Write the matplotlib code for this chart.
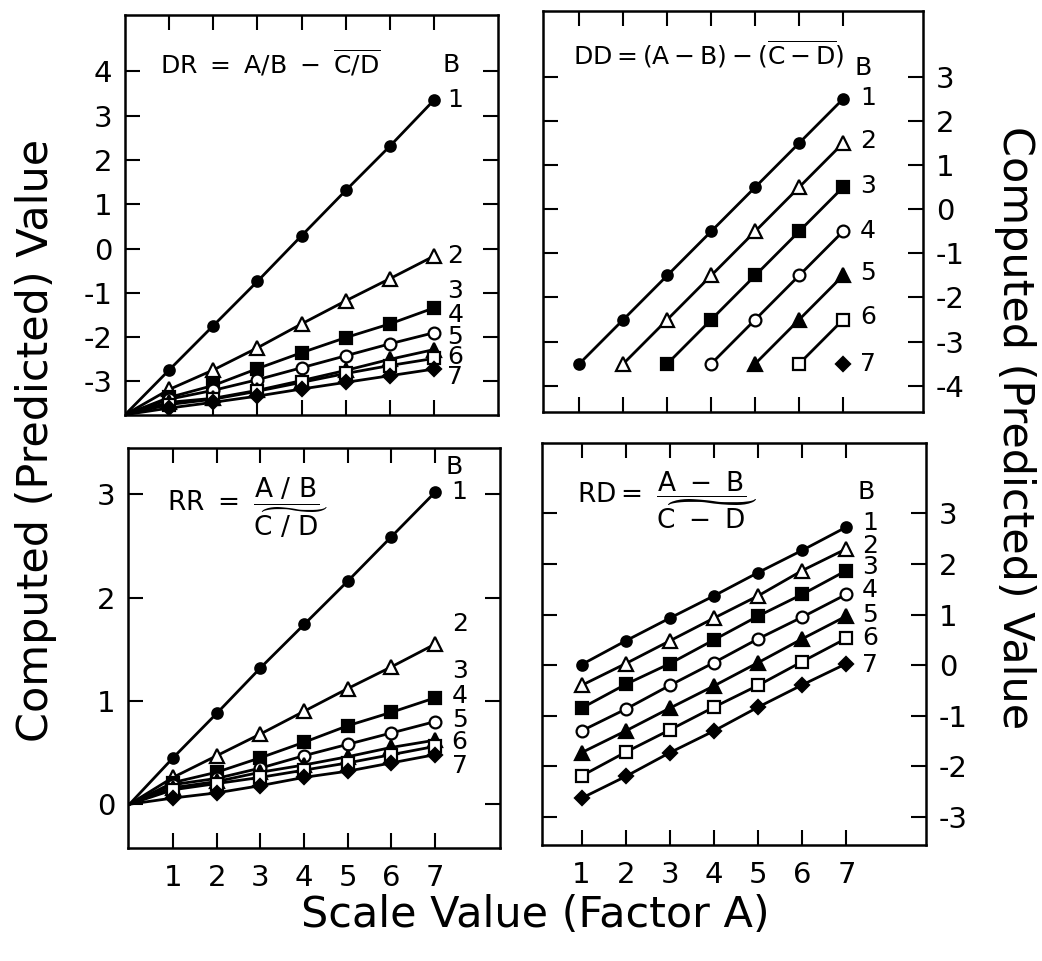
import numpy as np
import matplotlib
matplotlib.use('Agg')
import matplotlib.pyplot as plt

plt.rcParams['font.family'] = 'DejaVu Sans'
plt.rcParams['mathtext.fontset'] = 'dejavusans'
plt.rcParams['axes.unicode_minus'] = False

# factor A levels and factor B levels
scaleA = [1, 2, 3, 4, 5, 6, 7]
levelsB = ['1', '2', '3', '4', '5', '6', '7']

# DR = A/B - C/D (lines start at the lower-left corner)
drOrigin = (0, -3.75)
drValues = [
    [-2.74, -1.74, -0.74, 0.29, 1.31, 2.31, 3.35],
    [-3.18, -2.74, -2.24, -1.70, -1.18, -0.68, -0.17],
    [-3.36, -3.09, -2.71, -2.35, -2.01, -1.70, -1.34],
    [-3.40, -3.20, -2.96, -2.69, -2.42, -2.15, -1.90],
    [-3.47, -3.38, -3.20, -2.98, -2.75, -2.50, -2.28],
    [-3.52, -3.40, -3.22, -3.02, -2.82, -2.64, -2.48],
    [-3.60, -3.47, -3.33, -3.17, -3.02, -2.87, -2.72],
]
drLabelY = [3.35, -0.17, -0.95, -1.50, -2.00, -2.45, -2.90]

# DD = (A-B) - (C-D); each B line starts at A = B
ddValues = [
    [-3.5, -2.5, -1.5, -0.5, 0.5, 1.5, 2.5],
    [None, -3.5, -2.5, -1.5, -0.5, 0.5, 1.5],
    [None, None, -3.5, -2.5, -1.5, -0.5, 0.5],
    [None, None, None, -3.5, -2.5, -1.5, -0.5],
    [None, None, None, None, -3.5, -2.5, -1.5],
    [None, None, None, None, None, -3.5, -2.5],
    [None, None, None, None, None, None, -3.5],
]
ddLabelY = [2.52, 1.55, 0.53, -0.49, -1.45, -2.44, -3.5]

# RR = (A/B) / (C/D)
rrOrigin = (0, 0)
rrValues = [
    [0.45, 0.88, 1.32, 1.74, 2.16, 2.59, 3.02],
    [0.26, 0.47, 0.68, 0.90, 1.12, 1.33, 1.55],
    [0.21, 0.31, 0.45, 0.60, 0.76, 0.89, 1.03],
    [0.19, 0.25, 0.35, 0.47, 0.58, 0.69, 0.80],
    [0.16, 0.22, 0.31, 0.38, 0.46, 0.55, 0.62],
    [0.14, 0.20, 0.26, 0.33, 0.40, 0.48, 0.56],
    [0.06, 0.11, 0.18, 0.26, 0.32, 0.40, 0.48],
]
rrLabelY = [3.02, 1.74, 1.29, 1.05, 0.82, 0.60, 0.37]

# RD = (A-B) / (C-D)
rdValues = [
    [0.01, 0.48, 0.93, 1.37, 1.83, 2.27, 2.73],
    [-0.40, 0.03, 0.48, 0.93, 1.37, 1.87, 2.30],
    [-0.85, -0.38, 0.03, 0.50, 0.97, 1.40, 1.87],
    [-1.30, -0.87, -0.40, 0.05, 0.52, 0.95, 1.40],
    [-1.73, -1.30, -0.85, -0.41, 0.05, 0.52, 0.97],
    [-2.19, -1.72, -1.28, -0.83, -0.40, 0.07, 0.53],
    [-2.63, -2.20, -1.73, -1.30, -0.83, -0.39, 0.03],
]
rdLabelY = [2.80, 2.36, 1.93, 1.49, 1.00, 0.53, 0.00]

markers = ['o', '^', 's', 'o', '^', 's', 'D']
filled = [True, False, True, False, True, False, True]
msizes = [7.5, 9.5, 8, 8.5, 9.5, 8, 7.5]

fig = plt.figure(figsize=(10.42, 9.61), dpi=100)

axTL = fig.add_axes([0.120, 0.568, 0.358, 0.416])
axTR = fig.add_axes([0.521, 0.571, 0.365, 0.418])
axBL = fig.add_axes([0.123, 0.118, 0.357, 0.416])
axBR = fig.add_axes([0.520, 0.121, 0.369, 0.418])


def style(ax, yticks, side):
    ax.set_xticks(scaleA)
    ax.set_yticks(yticks)
    for s in ax.spines.values():
        s.set_linewidth(1.8)
    ax.tick_params(direction='in', length=11, width=1.5, top=True, right=True,
                   bottom=True, left=True, labelsize=21, pad=9)
    ax.tick_params(axis='x', labelbottom=False)
    if side == 'right':
        ax.tick_params(axis='y', labelleft=False, labelright=True)


def draw(ax, values, origin=None):
    for i, vals in enumerate(values):
        xs = [a for a, v in zip(scaleA, vals) if v is not None]
        ys = [v for v in vals if v is not None]
        mk = dict(marker=markers[i], ms=msizes[i], mec='k', mew=1.6,
                  mfc='k' if filled[i] else 'white')
        if origin is not None:
            ax.plot([origin[0]] + xs, [origin[1]] + ys, '-', color='k', lw=2,
                    markevery=list(range(1, len(xs) + 1)), **mk)
        else:
            ax.plot(xs, ys, '-', color='k', lw=2, **mk)


def series_labels(ax, ys, x, bpos):
    for lab, y in zip(levelsB, ys):
        ax.text(x, y, lab, fontsize=18, ha='left', va='center')
    ax.text(bpos[0], bpos[1], 'B', fontsize=18, ha='center', va='center')


# DR
draw(axTL, drValues, drOrigin)
style(axTL, [-3, -2, -1, 0, 1, 2, 3, 4], 'left')
axTL.set_xlim(0, 8.45)
axTL.set_ylim(-3.76, 5.26)
series_labels(axTL, drLabelY, 7.3, (7.38, 4.13))
axTL.text(0.8, 4.2, r'$\mathrm{DR\ =\ A/B\ -\ \overline{C/D}}$', fontsize=18,
          ha='left', va='center')

# DD
draw(axTR, ddValues)
style(axTR, [-4, -3, -2, -1, 0, 1, 2, 3], 'right')
axTR.set_xlim(0.17, 8.82)
axTR.set_ylim(-4.6, 4.5)
series_labels(axTR, ddLabelY, 7.38, (7.45, 3.2))
axTR.text(0.85, 3.5, r'$\mathrm{DD=(A-B)-(\overline{C-D})}$', fontsize=18,
          ha='left', va='center')

# RR
draw(axBL, rrValues, rrOrigin)
style(axBL, [0, 1, 2, 3], 'left')
axBL.set_xlim(-0.03, 8.49)
axBL.set_ylim(-0.42, 3.45)
series_labels(axBL, rrLabelY, 7.38, (7.44, 3.26))
axBL.text(0.86, 2.87, r'$\mathrm{RR\ =\ \dfrac{A\ /\ B}{\widetilde{C\ /\ D}}}$',
          fontsize=19, ha='left', va='center')

# RD
draw(axBR, rdValues)
style(axBR, [-3, -2, -1, 0, 1, 2, 3], 'right')
axBR.set_xlim(0.1, 8.81)
axBR.set_ylim(-3.55, 4.39)
series_labels(axBR, rdLabelY, 7.35, (7.45, 3.43))
axBR.text(0.9, 3.25, r'$\mathrm{RD=\ \dfrac{A\ -\ B}{\widetilde{C\ -\ D}}}$',
          fontsize=19, ha='left', va='center')

for ax in (axBL, axBR):
    ax.tick_params(axis='x', labelbottom=True, pad=12)

fig.text(0.514, 0.048, 'Scale Value (Factor A)', fontsize=31, ha='center', va='center')
fig.text(0.035, 0.542, 'Computed (Predicted) Value', fontsize=31, rotation=90,
         ha='center', va='center')
fig.text(0.974, 0.555, 'Computed (Predicted) Value', fontsize=31, rotation=270,
         ha='center', va='center')

fig.savefig('out.png', dpi=100)
